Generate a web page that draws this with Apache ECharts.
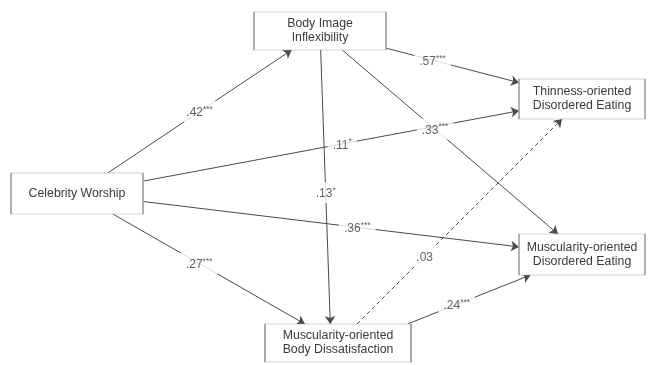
<!DOCTYPE html>
<html>
<head>
<meta charset="utf-8">
<script src="https://cdn.jsdelivr.net/npm/echarts@6/dist/echarts.min.js"></script>
<style>
html,body{margin:0;padding:0;background:#fff;}
#chart{width:651px;height:365px;}
</style>
</head>
<body>
<div id="chart"></div>
<script>
// ---- data ----
var nodeNames = [
  'Body Image\nInflexibility',
  'Celebrity Worship',
  'Thinness-oriented\nDisordered Eating',
  'Muscularity-oriented\nDisordered Eating',
  'Muscularity-oriented\nBody Dissatisfaction'
];
var edgeFrom = [1, 1, 1, 1, 0, 0, 0, 4, 4];
var edgeTo   = [0, 2, 3, 4, 2, 3, 4, 2, 3];
var edgeCoef = [0.42, 0.11, 0.36, 0.27, 0.57, 0.33, 0.13, 0.03, 0.24];
var edgeSig  = ['***', '*', '***', '***', '***', '***', '*', '', '***'];

// ---- layout (pixel space of the drawing) ----
var nodeCenter = [[320, 31], [77, 193.5], [582, 99], [582, 254.5], [338, 343]];
var nodeSize = [[132, 38], [132, 41], [126, 40], [126, 41], [146, 38]];
var labelAt = [0.5, 0.53, 0.57, 0.45, 0.35, 0.43, 0.52, 0.33, 0.4];
// anchor shifts (relative to node centre) used when aiming an edge
var fromShift = [[0,0],[0,0],[0,0],[0,0],[0,0],[0,0],[0,0],[0,0],[52,-12]];
var toShift   = [[0,0],[0,0],[0,0],[0,0],[0,0],[0,0],[-7,0],[0,0],[0,0]];

// intersection of ray (start p, direction d) with border of box i, p inside box
function exitPoint(i, p, dx, dy) {
  var c = nodeCenter[i], hw = nodeSize[i][0] / 2, hh = nodeSize[i][1] / 2;
  var tx = dx > 0 ? (c[0] + hw - p[0]) / dx : dx < 0 ? (c[0] - hw - p[0]) / dx : Infinity;
  var ty = dy > 0 ? (c[1] + hh - p[1]) / dy : dy < 0 ? (c[1] - hh - p[1]) / dy : Infinity;
  var t = Math.min(tx, ty);
  return [p[0] + dx * t, p[1] + dy * t];
}

var solidLines = [], dashedLines = [], labelPts = [];
for (var k = 0; k < edgeFrom.length; k++) {
  var ca = nodeCenter[edgeFrom[k]], cb = nodeCenter[edgeTo[k]];
  var a = [ca[0] + fromShift[k][0], ca[1] + fromShift[k][1]];
  var b = [cb[0] + toShift[k][0], cb[1] + toShift[k][1]];
  var dx = b[0] - a[0], dy = b[1] - a[1];
  var p1 = exitPoint(edgeFrom[k], a, dx, dy);
  var p2 = exitPoint(edgeTo[k], b, -dx, -dy);
  var item = { coords: [p1, p2] };
  if (edgeSig[k] === '') dashedLines.push(item); else solidLines.push(item);
  var t = labelAt[k];
  labelPts.push({
    value: [p1[0] + (p2[0] - p1[0]) * t, p1[1] + (p2[1] - p1[1]) * t],
    coef: edgeCoef[k], sig: edgeSig[k]
  });
}

var nodeData = nodeNames.map(function (n, i) {
  return { name: n, value: nodeCenter[i], symbolSize: nodeSize[i] };
});

var FONT = '"Liberation Sans", Arial, Helvetica, sans-serif';
var chart = echarts.init(document.getElementById('chart'), null, { renderer: 'canvas' });
chart.setOption({
  animation: false,
  backgroundColor: '#fff',
  grid: { left: 0, right: 0, top: 0, bottom: 0 },
  xAxis: { type: 'value', min: 0, max: 651, show: false },
  yAxis: { type: 'value', min: 0, max: 365, inverse: true, show: false },
  series: [
    {
      type: 'lines', coordinateSystem: 'cartesian2d', z: 2,
      symbol: ['none', 'arrow'], symbolSize: 8,
      lineStyle: { color: '#4a4a4a', width: 1, opacity: 1 },
      data: solidLines
    },
    {
      type: 'lines', coordinateSystem: 'cartesian2d', z: 2,
      symbol: ['none', 'arrow'], symbolSize: 8,
      lineStyle: { color: '#4a4a4a', width: 1, type: [4, 3], opacity: 1 },
      data: dashedLines
    },
    {
      type: 'scatter', z: 3, symbolSize: 0, silent: true,
      data: labelPts,
      label: {
        show: true, position: 'inside',
        backgroundColor: '#fff', padding: [4, 5, 3, 5],
        formatter: function (p) {
          var s = p.data.coef.toFixed(2).replace(/^0/, '');
          return '{v|' + s + '}' + (p.data.sig ? '{s|' + p.data.sig + '}' : '');
        },
        rich: {
          v: { fontFamily: FONT, fontSize: 12, color: '#3a3a3a', lineHeight: 14, verticalAlign: 'bottom' },
          s: { fontFamily: FONT, fontSize: 8.5, color: '#3a3a3a', lineHeight: 14, verticalAlign: 'top', padding: [0, 0, 4, 0] }
        }
      }
    },
    {
      type: 'scatter', z: 4, symbol: 'rect', silent: true,
      itemStyle: { color: '#fff', borderColor: '#a8a8a8', borderWidth: 1, opacity: 1 },
      data: nodeData,
      label: {
        show: true, position: 'inside', formatter: '{b}',
        fontFamily: FONT, fontSize: 12.3, lineHeight: 14, color: '#3a3a3a', align: 'center'
      }
    }
  ]
});
</script>
</body>
</html>
